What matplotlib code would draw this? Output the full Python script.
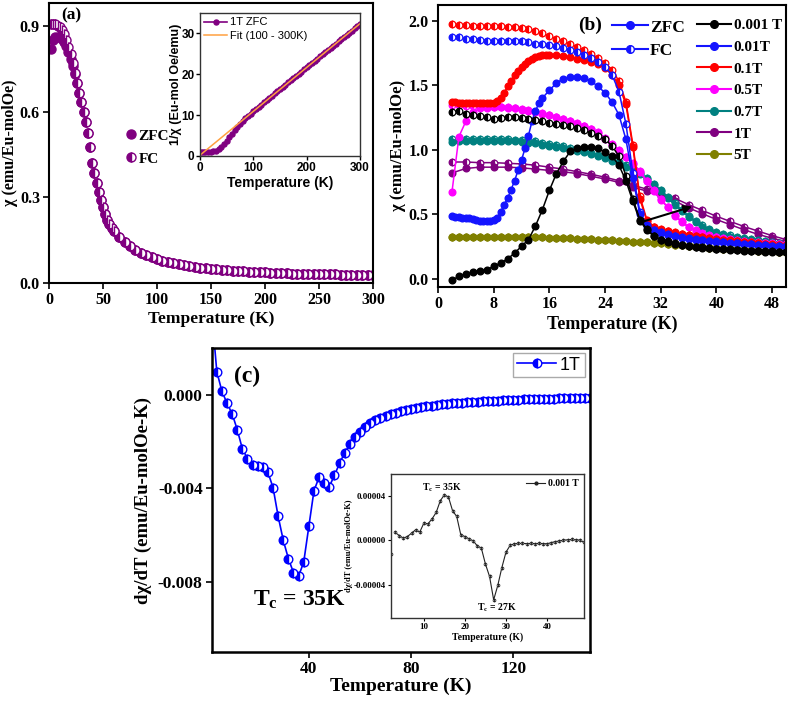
import numpy as np
import matplotlib
matplotlib.use("Agg")
import matplotlib.pyplot as plt
from matplotlib.lines import Line2D
from matplotlib.ticker import FormatStrFormatter

plt.rcParams['font.family'] = ['Liberation Serif', 'DejaVu Serif']
plt.rcParams['font.weight'] = 'bold'
plt.rcParams['axes.labelweight'] = 'bold'
plt.rcParams['axes.unicode_minus'] = False
plt.rcParams['mathtext.fontset'] = 'custom'
plt.rcParams['mathtext.rm'] = 'Liberation Serif:bold'
plt.rcParams['mathtext.bf'] = 'Liberation Serif:bold'
plt.rcParams['mathtext.it'] = 'Liberation Serif:italic:bold'

SANS = ['Liberation Sans', 'DejaVu Sans']

# ---------------- Panel (a) data ----------------
T_a = list(range(2, 61, 2)) + list(range(65, 301, 5))
chi_a_zfc = [0.82, 0.85, 0.86, 0.86, 0.86, 0.855, 0.845, 0.83, 0.81, 0.785,
             0.76, 0.73, 0.70, 0.665, 0.635, 0.60, 0.565, 0.525, 0.475, 0.42,
             0.385, 0.35, 0.32, 0.29, 0.265, 0.24, 0.222, 0.207, 0.193, 0.182,
             0.16, 0.143, 0.128, 0.116, 0.106, 0.097, 0.09, 0.083, 0.078, 0.073,
             0.069, 0.065, 0.062, 0.059, 0.056, 0.054, 0.052, 0.05, 0.048, 0.046,
             0.045, 0.043, 0.042, 0.041, 0.04, 0.039, 0.038, 0.037, 0.036, 0.035,
             0.035, 0.034, 0.033, 0.033, 0.032, 0.032, 0.031, 0.031, 0.03, 0.03,
             0.03, 0.029, 0.029, 0.028, 0.028, 0.028, 0.027, 0.027]
chi_a_fc = [0.905, 0.905, 0.905, 0.90, 0.895, 0.885, 0.87, 0.85, 0.825, 0.80,
            0.77, 0.735, 0.70, 0.665, 0.635, 0.60, 0.565, 0.525, 0.475, 0.42,
            0.385, 0.35, 0.32, 0.29, 0.265, 0.24, 0.222, 0.207, 0.193, 0.182,
            0.16, 0.143, 0.128, 0.116, 0.106, 0.097, 0.09, 0.083, 0.078, 0.073,
            0.069, 0.065, 0.062, 0.059, 0.056, 0.054, 0.052, 0.05, 0.048, 0.046,
            0.045, 0.043, 0.042, 0.041, 0.04, 0.039, 0.038, 0.037, 0.036, 0.035,
            0.035, 0.034, 0.033, 0.033, 0.032, 0.032, 0.031, 0.031, 0.03, 0.03,
            0.03, 0.029, 0.029, 0.028, 0.028, 0.028, 0.027, 0.027]

# inset (a): inverse susceptibility, 1T ZFC
T_inv = [2] + list(range(5, 301, 5))
inv_chi = [1.1, 1.1, 1.1, 1.1, 1.1, 1.15, 1.3, 1.6, 2.1, 2.9, 3.7, 4.6, 5.5, 6.3,
           7.1, 7.8, 8.5, 9.2, 9.8, 10.4, 11.0,
           11.5, 12.1, 12.6, 13.2, 13.7, 14.2, 14.8, 15.3, 15.8, 16.4,
           16.9, 17.4, 18.0, 18.5, 19.0, 19.6, 20.1, 20.6, 21.2, 21.7,
           22.2, 22.8, 23.3, 23.8, 24.4, 24.9, 25.4, 26.0, 26.5, 27.0,
           27.5, 28.1, 28.6, 29.1, 29.7, 30.2, 30.7, 31.3, 31.8, 32.3]
T_fit = [0, 300]
inv_fit = [0.2, 32.4]

# ---------------- Panel (b) data ----------------
T_b = np.arange(2, 51)
chi_0001T_zfc = [-0.01, 0.02, 0.04, 0.055, 0.06, 0.072, 0.098, 0.124, 0.155,
                 0.20, 0.253, 0.304, 0.41, 0.536, 0.685, 0.814, 0.909, 0.987, 1.01,
                 1.02, 1.02, 1.01, 0.98, 0.95, 0.88, 0.76, 0.60, 0.45, 0.38,
                 0.33, 0.30, 0.285, 0.272, 0.262, 0.254, 0.247, 0.241, 0.236, 0.232,
                 0.228, 0.225, 0.222, 0.219, 0.216, 0.214, 0.212, 0.21, 0.208, 0.206]
chi_0001T_fc = [1.29, 1.30, 1.28, 1.27, 1.26, 1.25, 1.235, 1.245, 1.25,
                1.25, 1.245, 1.24, 1.23, 1.22, 1.21, 1.20, 1.19, 1.18, 1.17,
                1.15, 1.13, 1.11, 1.08, 1.03, 0.95, 0.80, 0.62, 0.46, 0.385,
                0.335, 0.305, 0.29, 0.277, 0.266, 0.258, 0.25, 0.244, 0.239, 0.235,
                0.231, 0.228, 0.225, 0.222, 0.219, 0.217, 0.215, 0.213, 0.211, 0.209]
T_001T_zfc = np.concatenate([np.arange(2, 15, 0.5), np.arange(15, 51)])
chi_001T_zfc = [0.484, 0.48, 0.478, 0.475, 0.472, 0.468, 0.463, 0.458, 0.452, 0.448,
                0.445, 0.447, 0.455, 0.475, 0.52, 0.575, 0.625, 0.69, 0.76, 0.84,
                0.92, 1.01, 1.11, 1.22, 1.30, 1.36,
                1.40, 1.46, 1.515, 1.55, 1.565, 1.565, 1.555, 1.53, 1.49, 1.44,
                1.37, 1.27, 1.08, 0.78, 0.50, 0.41, 0.375, 0.355, 0.34, 0.33,
                0.32, 0.312, 0.305, 0.299, 0.294, 0.289, 0.284, 0.279, 0.275, 0.271,
                0.267, 0.263, 0.259, 0.256, 0.253, 0.25]
chi_001T_fc = [1.875, 1.87, 1.86, 1.855, 1.85, 1.845, 1.84, 1.84, 1.845,
               1.845, 1.84, 1.83, 1.82, 1.815, 1.81, 1.80, 1.79, 1.775, 1.755,
               1.735, 1.71, 1.68, 1.64, 1.58, 1.45, 1.20, 0.82, 0.52, 0.415,
               0.38, 0.36, 0.345, 0.334, 0.324, 0.316, 0.309, 0.303, 0.297, 0.292,
               0.287, 0.282, 0.278, 0.274, 0.27, 0.266, 0.262, 0.258, 0.255, 0.252]
T_01T_zfc = np.concatenate([np.arange(2, 16, 0.5), np.arange(16, 51)])
chi_01T_zfc = [1.37, 1.37, 1.365, 1.365, 1.365, 1.365, 1.365, 1.365, 1.365, 1.365,
               1.365, 1.365, 1.365, 1.375, 1.40, 1.44, 1.49, 1.535, 1.575, 1.61,
               1.64, 1.665, 1.685, 1.70, 1.715, 1.725, 1.73, 1.733,
               1.733, 1.73, 1.725, 1.715, 1.705, 1.695, 1.68, 1.66, 1.63, 1.58,
               1.50, 1.35, 1.02, 0.62, 0.45, 0.40, 0.38, 0.368, 0.357, 0.347,
               0.338, 0.33, 0.322, 0.315, 0.308, 0.302, 0.296, 0.29, 0.285, 0.28,
               0.275, 0.27, 0.266, 0.262, 0.258]
chi_01T_fc = [1.97, 1.965, 1.965, 1.96, 1.96, 1.955, 1.955, 1.955, 1.95,
              1.95, 1.945, 1.935, 1.92, 1.90, 1.88, 1.86, 1.84, 1.82, 1.795,
              1.77, 1.74, 1.71, 1.67, 1.62, 1.53, 1.37, 1.04, 0.64, 0.46,
              0.405, 0.385, 0.372, 0.36, 0.35, 0.341, 0.333, 0.325, 0.318, 0.311,
              0.305, 0.299, 0.293, 0.288, 0.283, 0.278, 0.273, 0.269, 0.265, 0.261]
chi_05T_zfc = [0.67, 1.10, 1.22, 1.29, 1.32, 1.325, 1.33, 1.33, 1.325,
               1.32, 1.31, 1.30, 1.29, 1.28, 1.265, 1.25, 1.235, 1.22, 1.20,
               1.18, 1.16, 1.13, 1.08, 1.04, 0.99, 0.94, 0.89, 0.83, 0.755,
               0.68, 0.61, 0.555, 0.49, 0.44, 0.40, 0.373, 0.35, 0.333, 0.322,
               0.313, 0.303, 0.295, 0.288, 0.283, 0.279, 0.275, 0.271, 0.268, 0.265]
chi_05T_fc = [1.345, 1.345, 1.34, 1.34, 1.335, 1.335, 1.33, 1.33, 1.33,
              1.325, 1.315, 1.305, 1.295, 1.285, 1.27, 1.255, 1.24, 1.225, 1.205,
              1.185, 1.16, 1.135, 1.09, 1.045, 0.995, 0.945, 0.895, 0.835, 0.76,
              0.685, 0.615, 0.56, 0.495, 0.445, 0.405, 0.377, 0.354, 0.337, 0.326,
              0.317, 0.307, 0.299, 0.292, 0.287, 0.283, 0.279, 0.275, 0.272, 0.269]
chi_07T_zfc = [1.06, 1.065, 1.065, 1.07, 1.07, 1.07, 1.07, 1.07, 1.07,
               1.065, 1.06, 1.055, 1.05, 1.04, 1.03, 1.02, 1.01, 1.00, 0.99,
               0.98, 0.965, 0.95, 0.935, 0.915, 0.895, 0.87, 0.845, 0.81, 0.77,
               0.725, 0.68, 0.625, 0.575, 0.525, 0.48, 0.44, 0.405, 0.378, 0.355,
               0.34, 0.328, 0.318, 0.308, 0.30, 0.292, 0.284, 0.277, 0.27, 0.265]
chi_07T_fc = [1.08, 1.085, 1.085, 1.085, 1.085, 1.08, 1.08, 1.08, 1.08,
              1.075, 1.075, 1.07, 1.065, 1.055, 1.045, 1.035, 1.025, 1.015, 1.005,
              0.99, 0.975, 0.96, 0.945, 0.925, 0.905, 0.88, 0.855, 0.82, 0.78,
              0.735, 0.69, 0.635, 0.585, 0.535, 0.49, 0.45, 0.415, 0.388, 0.365,
              0.35, 0.337, 0.326, 0.316, 0.307, 0.299, 0.291, 0.284, 0.277, 0.271]
T_1T = np.arange(2, 51, 2)
chi_1T_zfc = [0.82, 0.855, 0.865, 0.865, 0.865, 0.86, 0.85, 0.84, 0.83, 0.815,
              0.795, 0.773, 0.747, 0.71, 0.68, 0.64, 0.605, 0.55, 0.505, 0.46,
              0.42, 0.38, 0.345, 0.315, 0.29]
chi_1T_fc = [0.905, 0.905, 0.90, 0.90, 0.895, 0.89, 0.88, 0.865, 0.85, 0.83,
             0.81, 0.787, 0.76, 0.725, 0.695, 0.66, 0.625, 0.575, 0.53, 0.485,
             0.445, 0.405, 0.37, 0.335, 0.305]
chi_5T = [0.328, 0.328, 0.328, 0.328, 0.328, 0.328, 0.327, 0.327, 0.327,
          0.326, 0.325, 0.324, 0.323, 0.322, 0.32, 0.318, 0.316, 0.314, 0.312,
          0.31, 0.307, 0.304, 0.301, 0.298, 0.295, 0.292, 0.289, 0.286, 0.283,
          0.279, 0.275, 0.27, 0.266, 0.261, 0.256, 0.252, 0.247, 0.243, 0.239,
          0.235, 0.231, 0.228, 0.225, 0.222, 0.219, 0.216, 0.214, 0.212, 0.21]
field_labels = ['0.001 T', '0.01T', '0.1T', '0.5T', '0.7T', '1T', '5T']
field_colors = ['#000000', '#1414FF', '#FF0000', '#FF00FF', '#008080', '#800080', '#808000']

# ---------------- Panel (c) data ----------------
T_c = np.arange(2, 151, 2)
dchi_1T = [0.0035, 0.00098, 0.00014, -0.00037, -0.00082, -0.0015, -0.00232, -0.00273, -0.00301, -0.00304,
           -0.00308, -0.00332, -0.00397, -0.0052, -0.00622, -0.0070, -0.0076, -0.00775, -0.00715, -0.00563,
           -0.00411, -0.00353, -0.00376, -0.00393, -0.00345, -0.00294, -0.00249, -0.00213, -0.00181, -0.0016,
           -0.00139, -0.00122, -0.0011, -0.001, -0.00092, -0.00085, -0.00078, -0.00072, -0.00067, -0.00062,
           -0.00058, -0.00054, -0.0005, -0.00047, -0.00044, -0.00042, -0.0004, -0.00038, -0.00036, -0.00034,
           -0.00033, -0.00031, -0.0003, -0.00029, -0.00028, -0.00027, -0.00026, -0.00025, -0.00024, -0.00023,
           -0.00022, -0.00021, -0.00021, -0.0002, -0.00019, -0.00018, -0.00018, -0.00017, -0.00016, -0.00016,
           -0.00015, -0.00015, -0.00014, -0.00014, -0.00013]
T_ci = np.arange(2, 50)
dchi_0001T = [-1.2e-5, 0.73e-5, 0.45e-5, 0.21e-5, 0.36e-5, 0.66e-5, 0.97e-5, 0.76e-5, 1.57e-5,
              1.51e-5, 1.96e-5, 2.54e-5, 3.6e-5, 4.14e-5, 3.93e-5, 2.69e-5, 2.18e-5, 0.51e-5, 0.36e-5,
              0.15e-5, -0.03e-5, -0.48e-5, -0.69e-5, -2.14e-5, -3.26e-5, -5.38e-5, -4.08e-5, -2.45e-5, -1.06e-5,
              -0.45e-5, -0.3e-5, -0.27e-5, -0.27e-5, -0.28e-5, -0.27e-5, -0.28e-5, -0.27e-5, -0.28e-5, -0.3e-5,
              -0.2e-5, -0.1e-5, -0.05e-5, 0.03e-5, 0.06e-5, 0.09e-5, 0.06e-5, 0.03e-5, -0.18e-5]

# ---------------- Figure ----------------
W, H = 789, 701
fig = plt.figure(figsize=(W / 100, H / 100), dpi=100)


def px_axes(left, top, right, bottom):
    return fig.add_axes([left / W, 1 - bottom / H, (right - left) / W, (bottom - top) / H])


def style(ax, lw=1.5, fs=11, tl=4, pad=3):
    for s in ax.spines.values():
        s.set_linewidth(lw)
    ax.tick_params(direction='out', length=tl, width=1.2, labelsize=fs, pad=pad)


PURPLE = '#800080'

# ----- (a) -----
ax_a = px_axes(49, 3, 373, 283)
ax_a.plot(T_a, chi_a_zfc, 'o', color=PURPLE, ms=6.5, mec=PURPLE, mfc=PURPLE, lw=0)
ax_a.plot(T_a, chi_a_fc, 'o', color=PURPLE, ms=6.5, mec=PURPLE, mfc=PURPLE,
          fillstyle='left', markerfacecoloralt='white', mew=1.0, lw=0)
ax_a.set_xlim(0, 300)
ax_a.set_ylim(0, 0.98)
ax_a.set_xticks([0, 50, 100, 150, 200, 250, 300])
ax_a.set_yticks([0.0, 0.3, 0.6, 0.9])
ax_a.yaxis.set_major_formatter(FormatStrFormatter('%.1f'))
style(ax_a, fs=11.5, pad=2.5)
ax_a.set_xlabel('Temperature (K)', fontsize=12.5, labelpad=2)
ax_a.set_ylabel('χ (emu/Eu-molOe)', fontsize=11.5, labelpad=1)
ax_a.text(0.068, 0.957, '(a)', transform=ax_a.transAxes, fontsize=12.5,
          ha='center', va='center')
h_zfc = Line2D([0], [0], marker='o', ls='none', color=PURPLE, ms=6.5)
h_fc = Line2D([0], [0], marker='o', ls='none', color=PURPLE, ms=6.5, fillstyle='left',
              markerfacecoloralt='white')
ax_a.legend([h_zfc, h_fc], ['ZFC', 'FC'], loc='upper left', bbox_to_anchor=(0.238, 0.55),
            frameon=False, fontsize=11, handlelength=0.6, handletextpad=0.2,
            borderpad=0, borderaxespad=0, labelspacing=0.6)

# inset (a)
ax_ai = px_axes(200, 13, 360, 156)
ax_ai.plot(T_inv, inv_chi, '-o', color=PURPLE, ms=3.6, lw=1.2, label='1T ZFC')
ax_ai.plot(T_fit, inv_fit, '-', color='#FFA040', lw=1.1, label='Fit (100 - 300K)')
ax_ai.set_xlim(0, 300)
ax_ai.set_ylim(0, 35)
ax_ai.set_xticks([0, 100, 200, 300])
ax_ai.set_yticks([0, 10, 20, 30])
for s in ax_ai.spines.values():
    s.set_linewidth(1.0)
    s.set_color('#333333')
ax_ai.tick_params(direction='out', length=3, width=1, labelsize=8.5, pad=1)
for lbl in ax_ai.get_xticklabels() + ax_ai.get_yticklabels():
    lbl.set_family(SANS)
    lbl.set_weight('bold')
ax_ai.set_xlabel('Temperature (K)', fontsize=10, family=SANS, labelpad=2)
ax_ai.set_ylabel('1/χ (Eu-mol Oe/emu)', fontsize=9, family=SANS)
ax_ai.yaxis.set_label_coords(-0.11, 0.5)
ax_ai.legend(loc='upper left', frameon=False, prop={'family': SANS, 'size': 8, 'weight': 'normal'},
             handlelength=2.0, handletextpad=0.3, borderpad=0.3, labelspacing=0.3,
             borderaxespad=0.1)

# ----- (b) -----
ax_b = px_axes(438, 5, 786, 286.7)
series = [
    (T_b, chi_5T, T_b, chi_5T, field_colors[6]),
    (T_1T, chi_1T_zfc, T_1T, chi_1T_fc, field_colors[5]),
    (T_b, chi_07T_zfc, T_b, chi_07T_fc, field_colors[4]),
    (T_b, chi_05T_zfc, T_b, chi_05T_fc, field_colors[3]),
    (T_01T_zfc, chi_01T_zfc, T_b, chi_01T_fc, field_colors[2]),
    (T_001T_zfc, chi_001T_zfc, T_b, chi_001T_fc, field_colors[1]),
    (T_b, chi_0001T_zfc, T_b, chi_0001T_fc, field_colors[0]),
]
for tz, cz, tf, cf, col in series:
    ax_b.plot(tf, cf, '-o', color=col, ms=4.8, lw=1.1, mec=col, mfc=col,
              fillstyle='left', markerfacecoloralt='white', mew=0.9)
    ax_b.plot(tz, cz, '-o', color=col, ms=4.8, lw=1.1, mec=col, mfc=col)
ax_b.annotate('', xy=(36.5, 0.56), xytext=(29.5, 0.445),
              arrowprops=dict(arrowstyle='-|>', color='black', lw=1.5, mutation_scale=12,
                              shrinkA=0, shrinkB=0))
ax_b.set_xlim(0, 50)
ax_b.set_ylim(-0.06, 2.12)
ax_b.set_xticks([0, 8, 16, 24, 32, 40, 48])
ax_b.set_yticks([0.0, 0.5, 1.0, 1.5, 2.0])
ax_b.yaxis.set_major_formatter(FormatStrFormatter('%.1f'))
style(ax_b, fs=11.5, pad=2.5)
ax_b.set_xlabel('Temperature (K)', fontsize=13, labelpad=3)
ax_b.set_ylabel('χ (emu/Eu-molOe)', fontsize=12, labelpad=2)
ax_b.text(0.437, 0.929, '(b)', transform=ax_b.transAxes, fontsize=14, ha='center', va='center')
BLUE = field_colors[1]
h1 = Line2D([0], [0], color=BLUE, marker='o', ms=5.5, lw=1.5)
h2 = Line2D([0], [0], color=BLUE, marker='o', ms=5.5, lw=1.5, fillstyle='left',
            markerfacecoloralt='white')
leg1 = ax_b.legend([h1, h2], ['ZFC', 'FC'], loc='upper left', bbox_to_anchor=(0.5, 0.949),
                   frameon=False, fontsize=12.5, handlelength=2.05, handletextpad=0.15,
                   borderpad=0, borderaxespad=0, labelspacing=0.4)
ax_b.add_artist(leg1)
fh = [Line2D([0], [0], color=c, marker='o', ms=5.5, lw=1.5) for c in field_colors]
ax_b.legend(fh, field_labels, loc='upper left', bbox_to_anchor=(0.744, 0.951),
            frameon=False, fontsize=11, handlelength=2.2, handletextpad=0.2,
            borderpad=0, borderaxespad=0, labelspacing=0.52)

# ----- (c) -----
ax_c = px_axes(211.7, 347.7, 590, 652.3)
ax_c.plot(T_c, dchi_1T, '-o', color='#0000FF', ms=6.2, lw=1.2, mec='#0000FF', mfc='#0000FF',
          fillstyle='left', markerfacecoloralt='white', mew=1.0, label='1T')
ax_c.set_xlim(2, 150)
ax_c.set_ylim(-0.011, 0.002)
ax_c.set_xticks([40, 80, 120])
ax_c.set_yticks([-0.008, -0.004, 0.0])
ax_c.yaxis.set_major_formatter(FormatStrFormatter('%.3f'))
style(ax_c, lw=1.8, fs=12.5, tl=4.5, pad=2)
ax_c.set_xlabel('Temperature (K)', fontsize=14, labelpad=0)
ax_c.set_ylabel('dχ/dT (emu/Eu-molOe-K)', fontsize=13.5, labelpad=4)
ax_c.text(0.093, 0.905, '(c)', transform=ax_c.transAxes, fontsize=17, ha='center', va='center')
ax_c.text(0.233, 0.172, r'T$_{\mathrm{c}}$ = 35K', transform=ax_c.transAxes, fontsize=17,
          ha='center', va='center')
lg = ax_c.legend(loc='upper right', prop={'family': SANS, 'size': 13, 'weight': 'normal'},
                 frameon=True, fancybox=False, edgecolor='#AAAAAA', framealpha=1,
                 handlelength=2.2, handletextpad=0.2, borderpad=0.2, borderaxespad=0.3)
lg.get_frame().set_linewidth(1.0)

# inset (c)
ax_ci = px_axes(391, 474.3, 584, 617.7)
ax_ci.plot(T_ci[1:], dchi_0001T[1:], '-', color='#222222', lw=0.8)
ax_ci.plot(T_ci, dchi_0001T, 'o', color='#222222', ms=2.0, mfc='white', mew=0.6,
           fillstyle='left', markerfacecoloralt='white')
ax_ci.set_xlim(2, 49)
ax_ci.set_ylim(-7e-5, 6e-5)
ax_ci.set_xticks([10, 20, 30, 40])
ax_ci.set_yticks([-4e-5, 0, 4e-5])
ax_ci.yaxis.set_major_formatter(FormatStrFormatter('%.5f'))
for s in ax_ci.spines.values():
    s.set_linewidth(1.0)
    s.set_color('#333333')
ax_ci.tick_params(direction='out', length=2, width=0.8, labelsize=6.5, pad=1.5)
ax_ci.set_xlabel('Temperature (K)', fontsize=7, labelpad=1)
ax_ci.set_ylabel('dχ/dT (emu/Eu-molOe-K)', fontsize=6, labelpad=1)
ax_ci.text(14.3, 4.75e-5, r'T$_{\mathrm{c}}$ = 35K', fontsize=7, ha='center', va='center')
ax_ci.text(27.7, -6.1e-5, r'T$_{\mathrm{c}}$ = 27K', fontsize=7, ha='center', va='center')
hci = Line2D([0], [0], color='#222222', lw=0.8, marker='o', ms=2.0)
ax_ci.legend([hci], ['0.001 T'], loc='upper right', frameon=False, fontsize=7,
             handlelength=2.0, handletextpad=0.3, borderpad=0.3, borderaxespad=0.2)

fig.savefig('out.png', dpi=100)
